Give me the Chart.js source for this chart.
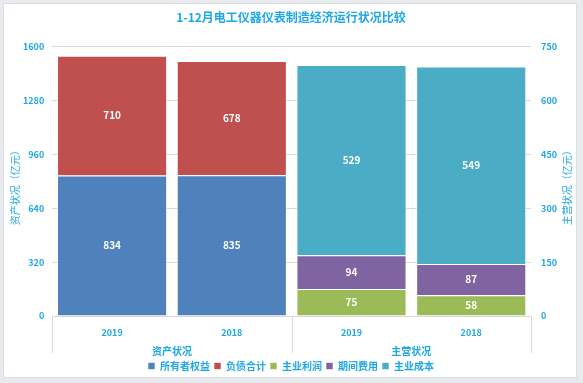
<!DOCTYPE html>
<html>
<head>
<meta charset="utf-8">
<script src="https://cdn.jsdelivr.net/npm/chart.js@4.4.1/dist/chart.umd.min.js"></script>
<style>
  html, body { margin: 0; padding: 0; background: #e9eaee; }
  #card { position: absolute; left: 3px; top: 3px; width: 574px; height: 375px; background: #fff; border: 1px solid #dcdde1; box-sizing: border-box; }
  canvas { display: block; }
</style>
</head>
<body>
<div id="card"><canvas id="chart" width="572" height="373"></canvas></div>
<script>
// 1-12月电工仪器仪表制造经济运行状况比较
const years = ['2019', '2018'];
const groups = ['资产状况', '主营状况'];
const ownerEquity = [834, 835];   // 所有者权益
const liabilities = [710, 678];   // 负债合计
const mainProfit = [75, 58];      // 主业利润
const periodCost = [94, 87];      // 期间费用
const mainCost = [529, 549];      // 主业成本

const blue = '#20a7e6';
const font = "'Noto Sans CJK SC', 'Noto Sans', sans-serif";

const labels = years.concat(years);
const left = arr => arr.concat([null, null]);
const right = arr => [null, null].concat(arr);

function makeSet(label, data, color, axis) {
  return {
    label: label,
    data: data,
    yAxisID: axis,
    backgroundColor: color,
    borderColor: 'rgba(255,255,255,0.6)',
    borderWidth: 1,
    barPercentage: 0.92,
    categoryPercentage: 1
  };
}

// white value labels in the middle of each segment
const valueLabels = {
  id: 'valueLabels',
  afterDatasetsDraw(chart) {
    const c = chart.ctx;
    c.save();
    c.fillStyle = '#fff';
    c.font = 'bold 10px ' + font;
    c.textAlign = 'center';
    c.textBaseline = 'middle';
    chart.data.datasets.forEach((ds, i) => {
      chart.getDatasetMeta(i).data.forEach((bar, j) => {
        if (ds.data[j] == null) return;
        c.fillText(ds.data[j], bar.x, (bar.y + bar.base) / 2);
      });
    });
    c.restore();
  }
};

function sideTitle(c, text, x, y) {
  c.save();
  c.translate(x, y);
  c.rotate(-Math.PI / 2);
  c.fillStyle = blue;
  c.font = '10px ' + font;
  c.textAlign = 'center';
  c.textBaseline = 'middle';
  c.fillText(text, 0, 0);
  c.restore();
}

// separator lines under the axis + both axis titles (read bottom-to-top)
const extras = {
  id: 'extras',
  afterDraw(chart) {
    const c = chart.ctx;
    const x = chart.scales.x;
    const g = chart.scales.x2;
    const step = (x.right - x.left) / labels.length;
    c.save();
    c.strokeStyle = '#d9d9d9';
    c.lineWidth = 1;
    [0, 2, 4].forEach(k => {
      const px = Math.round(x.left + step * k) + 0.5;
      c.beginPath();
      c.moveTo(px, chart.chartArea.bottom);
      c.lineTo(px, g.top + 14);
      c.stroke();
    });
    c.restore();
    const midY = (chart.chartArea.top + chart.chartArea.bottom) / 2 + 4;
    sideTitle(c, '资产状况（亿元）', 11, midY);
    sideTitle(c, '主营状况（亿元）', chart.width - 9, midY);
  }
};

const tickFont = { family: font, size: 9, weight: 'bold' };

new Chart(document.getElementById('chart').getContext('2d'), {
  type: 'bar',
  data: {
    labels: labels,
    datasets: [
      makeSet('所有者权益', left(ownerEquity), '#4f81bd', 'y'),
      makeSet('负债合计', left(liabilities), '#c0504d', 'y'),
      makeSet('主业利润', right(mainProfit), '#9bbb59', 'y1'),
      makeSet('期间费用', right(periodCost), '#8064a2', 'y1'),
      makeSet('主业成本', right(mainCost), '#4bacc6', 'y1')
    ]
  },
  options: {
    responsive: false,
    animation: false,
    layout: { padding: { left: 11, right: 9, top: 0, bottom: 0 } },
    plugins: {
      title: {
        display: true,
        text: '1-12月电工仪器仪表制造经济运行状况比较',
        color: blue,
        font: { family: font, size: 12, weight: 'bold' },
        padding: { top: 6, bottom: 22 }
      },
      legend: {
        position: 'bottom',
        maxHeight: 20,
        labels: {
          color: blue,
          font: { family: font, size: 10, weight: 'bold' },
          boxWidth: 7,
          boxHeight: 7,
          padding: 4
        }
      },
      tooltip: { enabled: false }
    },
    scales: {
      x: {
        stacked: true,
        grid: { display: false, drawTicks: false },
        border: { display: false },
        ticks: { color: blue, font: tickFont, padding: 11 },
        afterFit: s => { s.height = 23; }
      },
      x2: {
        type: 'category',
        position: 'bottom',
        labels: groups,
        grid: { display: false, drawTicks: false },
        border: { display: false },
        ticks: { color: blue, font: { family: font, size: 10, weight: 'bold' }, padding: 6 },
        afterFit: s => { s.height = 18; }
      },
      y: {
        stacked: true,
        position: 'left',
        min: 0,
        max: 1600,
        ticks: { stepSize: 320, color: blue, font: tickFont, padding: 8, callback: v => String(v) },
        grid: { color: '#d9d9d9', tickLength: 0 },
        border: { display: false }
      },
      y1: {
        stacked: true,
        position: 'right',
        min: 0,
        max: 750,
        ticks: { stepSize: 150, color: blue, font: tickFont, padding: 10, callback: v => String(v) },
        grid: { drawOnChartArea: false, tickLength: 0 },
        border: { display: false }
      }
    }
  },
  plugins: [valueLabels, extras]
});
</script>
</body>
</html>
